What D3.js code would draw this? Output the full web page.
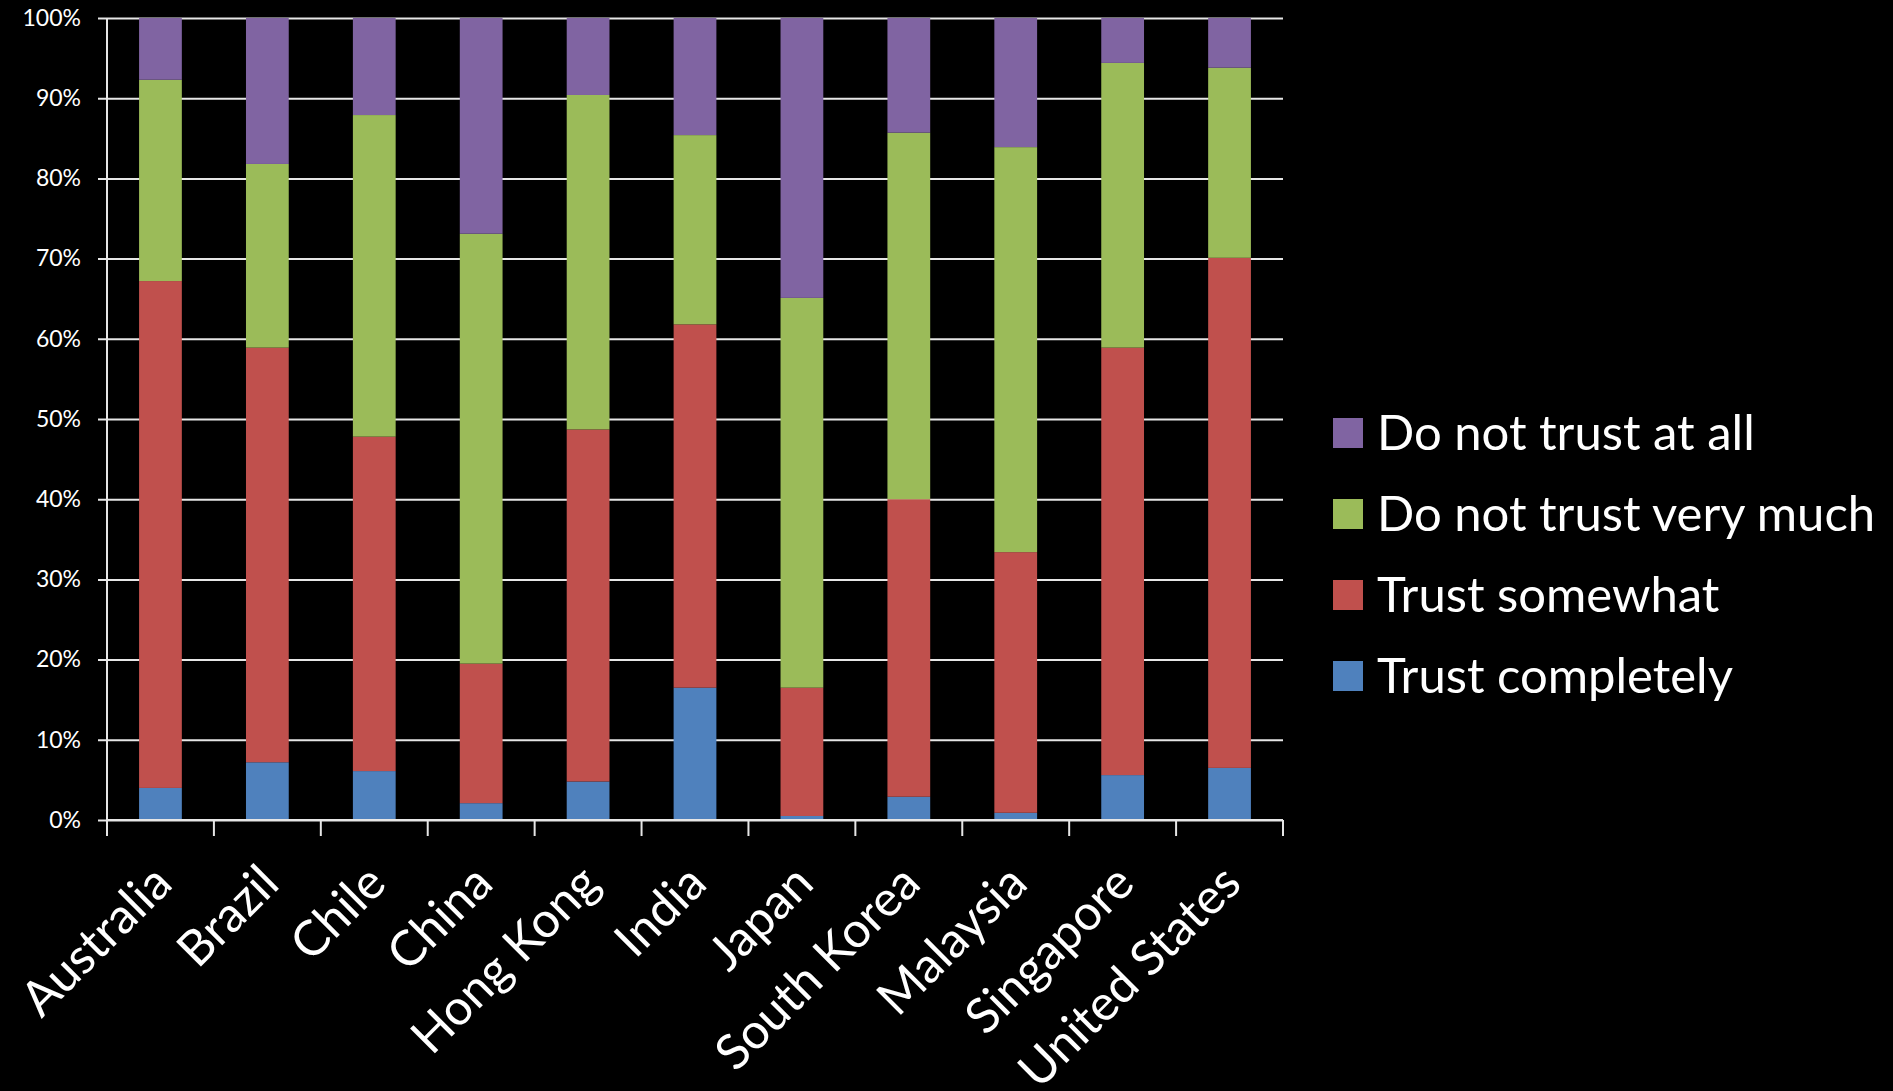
<!DOCTYPE html>
<html>
<head>
<meta charset="utf-8">
<script src="https://cdn.jsdelivr.net/npm/d3@7"></script>
<style>
  html, body { margin: 0; padding: 0; background: #000; }
  svg { display: block; font-family: Lato, "Open Sans", sans-serif; }
</style>
</head>
<body>
<svg id="chart" width="1893" height="1091"></svg>
<script>
var countries = ["Australia", "Brazil", "Chile", "China", "Hong Kong", "India", "Japan", "South Korea", "Malaysia", "Singapore", "United States"];
var seriesNames = ["Trust completely", "Trust somewhat", "Do not trust very much", "Do not trust at all"];
var trustCompletely = [4.0, 7.2, 6.1, 2.1, 4.8, 16.5, 0.5, 2.9, 0.9, 5.6, 6.5];
var trustSomewhat   = [63.2, 51.7, 41.7, 17.4, 43.9, 45.3, 16.0, 37.1, 32.5, 53.3, 63.6];
var notVeryMuch     = [25.1, 22.9, 40.1, 53.6, 41.7, 23.6, 48.6, 45.7, 50.5, 35.5, 23.7];
var notAtAll        = [7.7, 18.2, 12.1, 26.9, 9.6, 14.6, 34.9, 14.3, 16.1, 5.6, 6.2];
var yTicks = [0, 10, 20, 30, 40, 50, 60, 70, 80, 90, 100];
var colors = ["#4F81BD", "#C0504D", "#9BBB59", "#8064A2"];

var rows = countries.map(function(c, i){
  return {country: c,
          "Trust completely": trustCompletely[i],
          "Trust somewhat": trustSomewhat[i],
          "Do not trust very much": notVeryMuch[i],
          "Do not trust at all": notAtAll[i]};
});

var svg = d3.select("#chart");
var mLeft = 107, mRight = 1283, mTop = 18, mBottom = 820;

var x = d3.scaleBand().domain(countries).range([mLeft, mRight]).paddingInner(0.6).paddingOuter(0.3);
var y = d3.scaleLinear().domain([0, 100]).range([mBottom, mTop]);
var color = d3.scaleOrdinal().domain(seriesNames).range(colors);

// gridlines + y axis labels
svg.append("g")
  .attr("transform", "translate(" + mLeft + ",0)")
  .call(d3.axisLeft(y).tickValues(yTicks).tickSize(-(mRight - mLeft)).tickPadding(0).tickFormat(function(d){ return d + "%"; }))
  .call(function(g){
    g.select(".domain").remove();
    g.selectAll(".tick line").attr("x1", -9).attr("stroke", "#e6e6e6").attr("stroke-width", 2);
    g.selectAll(".tick text").attr("x", -26).attr("fill", "#fff").attr("font-size", 23)
      .attr("font-family", "Lato, 'Open Sans', sans-serif");
  });

// bars
var stacked = d3.stack().keys(seriesNames)(rows);
svg.append("g").selectAll("g")
  .data(stacked).enter()
  .append("g")
    .attr("fill", function(d){ return color(d.key); })
  .selectAll("rect")
  .data(function(d){ return d; }).enter()
  .append("rect")
    .attr("x", function(d){ return x(d.data.country); })
    .attr("y", function(d){ return y(d[1]); })
    .attr("width", x.bandwidth())
    .attr("height", function(d){ return y(d[0]) - y(d[1]); });

// y axis line
svg.append("line")
  .attr("x1", mLeft).attr("x2", mLeft).attr("y1", mTop).attr("y2", mBottom)
  .attr("stroke", "#e6e6e6").attr("stroke-width", 2);

// x axis with ticks at category boundaries
var bounds = d3.range(countries.length + 1).map(function(i){ return mLeft + i * (mRight - mLeft) / countries.length; });
var xa = svg.append("g");
xa.append("line")
  .attr("x1", mLeft).attr("x2", mRight).attr("y1", mBottom).attr("y2", mBottom)
  .attr("stroke", "#e6e6e6").attr("stroke-width", 2);
xa.selectAll("line.tk")
  .data(bounds).enter()
  .append("line")
    .attr("class", "tk")
    .attr("x1", function(d){ return d; }).attr("x2", function(d){ return d; })
    .attr("y1", mBottom).attr("y2", mBottom + 16)
    .attr("stroke", "#e6e6e6").attr("stroke-width", 2);

xa.selectAll("text")
  .data(countries).enter()
  .append("text")
    .attr("transform", function(d){
      var cx = x(d) + x.bandwidth() / 2 + 14;
      return "translate(" + cx + "," + (mBottom + 66) + ") rotate(-45)";
    })
    .attr("text-anchor", "end")
    .attr("fill", "#fff")
    .attr("font-size", 49)
    .text(function(d){ return d; });

// legend
var legendOrder = ["Do not trust at all", "Do not trust very much", "Trust somewhat", "Trust completely"];
var lg = svg.append("g").attr("transform", "translate(1333,433)");
var item = lg.selectAll("g")
  .data(legendOrder).enter()
  .append("g")
    .attr("transform", function(d, i){ return "translate(0," + (i * 81) + ")"; });
item.append("rect")
  .attr("x", 0).attr("y", -15).attr("width", 30).attr("height", 30)
  .attr("fill", function(d){ return color(d); });
item.append("text")
  .attr("x", 44).attr("y", 0).attr("dy", "0.34em")
  .attr("fill", "#fff").attr("font-size", 49)
  .text(function(d){ return d; });
</script>
</body>
</html>
